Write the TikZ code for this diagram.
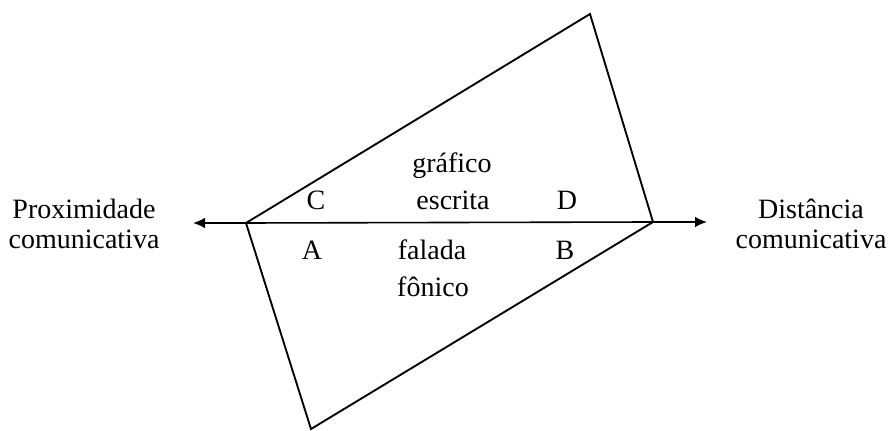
\documentclass[tikz,border=0pt]{standalone}
\usepackage{fontspec}
\setmainfont{Liberation Serif}
\usetikzlibrary{arrows.meta}

\begin{document}
\begin{tikzpicture}[x=0.75pt, y=-0.75pt]
        \tikzset{every node/.style = {inner sep=0pt, font=\fontsize{21}{22.5}\selectfont},
                 lbl/.style = {anchor=base},
                 side/.style = {align=center},
                 frame/.style = {line width=1.4pt, line join=miter},
                 axis/.style = {line width=1.2pt, -{Latex[length=9pt, width=8pt]}}}

        \useasboundingbox (0, 0) rectangle (890, 431);

        \coordinate (l) at (246, 223);
        \coordinate (t) at (590, 14);
        \coordinate (r) at (653, 222);
        \coordinate (b) at (311, 429);

        \coordinate (al) at (193, 223);
        \coordinate (ar) at (707, 222);

        \draw[frame] (l) -- (t) -- (r) -- (b) -- cycle;
        \draw[line width=1.2pt] (l) -- (r);
        \draw (l) edge[axis] (al);
        \draw (r) edge[axis] (ar);

        \node[side] (prox) at (84, 224) {Proximidade\\comunicativa};
        \node[side] (dist) at (811, 224) {Distância\\comunicativa};

        \node[lbl] (grafico) at (452, 173) {gráfico};
        \node[lbl] (escrita) at (453, 210) {escrita};
        \node[lbl] (falada) at (432, 260) {falada};
        \node[lbl] (fonico) at (433, 297) {fônico};

        \node[lbl] (C) at (316, 210) {C};
        \node[lbl] (D) at (567, 210) {D};
        \node[lbl] (A) at (312, 260) {A};
        \node[lbl] (B) at (565, 260) {B};

    \end{tikzpicture}
\end{document}
